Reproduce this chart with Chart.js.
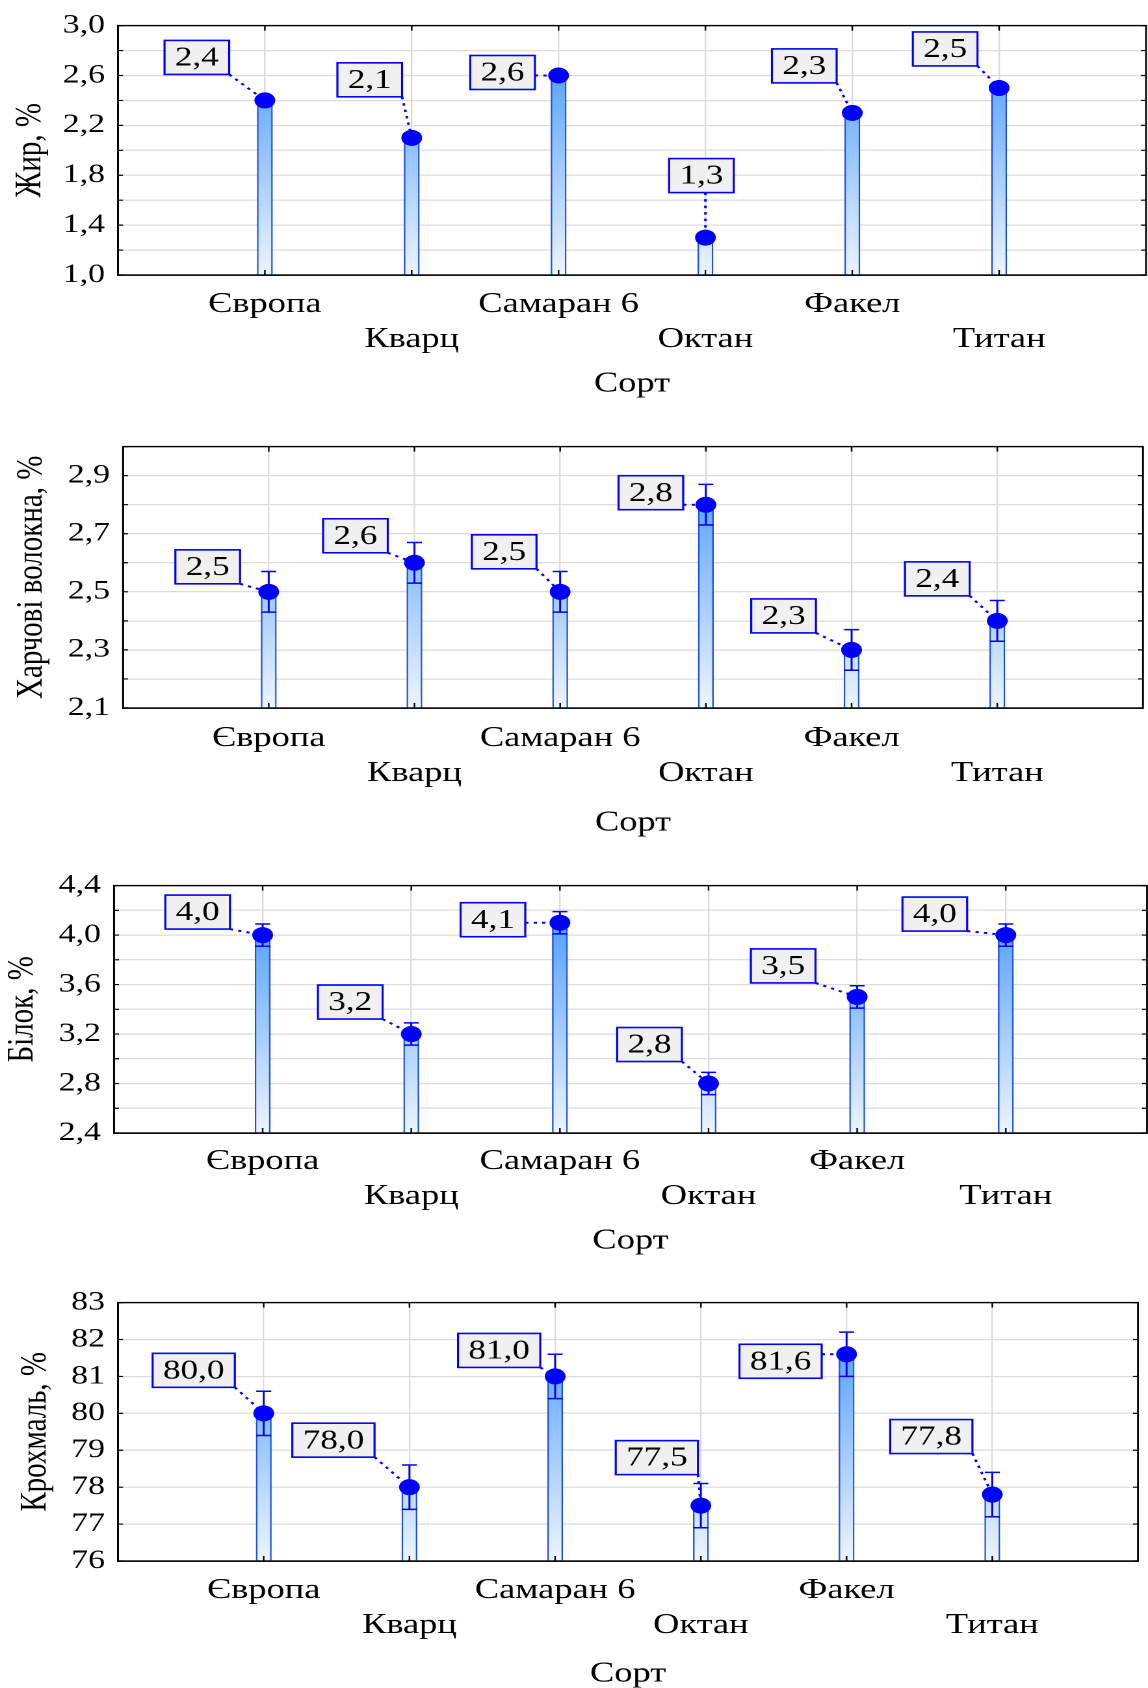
<!DOCTYPE html>
<html lang="uk">
<head>
<meta charset="utf-8">
<script src="https://cdn.jsdelivr.net/npm/chart.js@4.4.1/dist/chart.umd.min.js"></script>
<style>
	body { margin: 0; background: #fff; width: 1148px; height: 1688px; position: relative; overflow: hidden; }
	canvas { position: absolute; left: 0; }
</style>
</head>
<body>
<canvas id="chart-fat"></canvas>
<canvas id="chart-fiber"></canvas>
<canvas id="chart-protein"></canvas>
<canvas id="chart-starch"></canvas>
<script>
const sorts = ["Європа", "Кварц", "Самаран 6", "Октан", "Факел", "Титан"];

const fatValues = [2.4, 2.1, 2.6, 1.3, 2.3, 2.5];
const fiberValues = [2.5, 2.6, 2.5, 2.8, 2.3, 2.4];
const fiberErrors = [0.07, 0.07, 0.07, 0.07, 0.07, 0.07];
const proteinValues = [4.0, 3.2, 4.1, 2.8, 3.5, 4.0];
const proteinErrors = [0.09, 0.09, 0.09, 0.09, 0.09, 0.09];
const starchValues = [80.0, 78.0, 81.0, 77.5, 81.6, 77.8];
const starchErrors = [0.6, 0.6, 0.6, 0.6, 0.6, 0.6];

// y axis: [min, max, step, label every n-th tick, decimals]
const fatAxis = [1.0, 3.0, 0.2, 2, 1];
const fiberAxis = [2.1, 3.0, 0.1, 2, 1];
const proteinAxis = [2.4, 4.4, 0.2, 2, 1];
const starchAxis = [76, 83, 1, 1, 0];

// where the value boxes sit, px from their point
const fatShifts = [[-68, -43], [-42, -58], [-56, -3], [-4, -62], [-48, -47], [-54, -39]];
const fiberShifts = [[-61, -25], [-59, -27], [-56, -40], [-55, -12], [-68, -34], [-60, -42]];
const proteinShifts = [[-65, -23], [-61, -32], [-67, -3], [-59, -39], [-74, -31], [-71, -21]];
const starchShifts = [[-70, -43], [-76, -47], [-56, -26], [-44, -48], [-66, 7], [-61, -58]];

const INNER_W = 883;
const STRETCH = 1148 / INNER_W;   // the source figure is stretched sideways
const SERIF = '"Liberation Serif", "Times New Roman", serif';
const fmt = (v, d) => v.toFixed(d).replace(".", ",");

const panelFrame = {
	id: "panelFrame",
	afterDatasetsDraw(chart) {
		const {ctx, chartArea: a, scales} = chart;
		ctx.save();
		ctx.strokeStyle = "#000";
		ctx.lineWidth = 1.4;
		ctx.strokeRect(a.left, a.top, a.right - a.left, a.bottom - a.top);
		ctx.lineWidth = 1.2;
		ctx.beginPath();
		scales.y.ticks.forEach(t => {
			const y = scales.y.getPixelForValue(t.value);
			ctx.moveTo(a.left, y); ctx.lineTo(a.left + 5 / STRETCH, y);
			ctx.moveTo(a.right, y); ctx.lineTo(a.right - 5 / STRETCH, y);
		});
		scales.x.ticks.forEach(t => {
			const x = scales.x.getPixelForValue(t.value);
			ctx.moveTo(x, a.top); ctx.lineTo(x, a.top + 5);
			ctx.moveTo(x, a.bottom); ctx.lineTo(x, a.bottom - 5);
		});
		ctx.stroke();
		ctx.restore();
	}
};

const errorBars = {
	id: "errorBars",
	afterDatasetDraw(chart, args, opts) {
		if (args.meta.type !== "bar" || !opts.errors) return;
		const {ctx} = chart;
		const yScale = chart.scales.y;
		const half = 7.5 / STRETCH;
		ctx.save();
		ctx.strokeStyle = "#0000ff";
		ctx.lineWidth = 1.5;
		args.meta.data.forEach((bar, i) => {
			const top = yScale.getPixelForValue(opts.values[i] + opts.errors[i]);
			const bottom = yScale.getPixelForValue(opts.values[i] - opts.errors[i]);
			ctx.beginPath();
			ctx.moveTo(bar.x, top); ctx.lineTo(bar.x, bottom);
			ctx.moveTo(bar.x - half, top); ctx.lineTo(bar.x + half, top);
			ctx.moveTo(bar.x - half, bottom); ctx.lineTo(bar.x + half, bottom);
			ctx.stroke();
		});
		ctx.restore();
	}
};

const valueBoxes = {
	id: "valueBoxes",
	afterDatasetsDraw(chart, args, opts) {
		const {ctx} = chart;
		const meta = chart.getDatasetMeta(0);
		ctx.save();
		ctx.font = "27px " + SERIF;
		meta.data.forEach((pt, i) => {
			const text = fmt(opts.values[i], 1);
			const w = ctx.measureText(text).width + 16;
			const h = 34;
			const cx = pt.x + opts.shifts[i][0] / STRETCH;
			const cy = pt.y + opts.shifts[i][1];
			const x0 = cx - w / 2, y0 = cy - h / 2;
			const nx = Math.min(Math.max(pt.x, x0), x0 + w);
			const ny = Math.min(Math.max(pt.y, y0), y0 + h);

			ctx.strokeStyle = "#0000ff";
			ctx.setLineDash([2.5, 4]);
			ctx.lineWidth = 2;
			ctx.beginPath();
			ctx.moveTo(nx, ny);
			ctx.lineTo(pt.x, pt.y);
			ctx.stroke();
			ctx.setLineDash([]);

			ctx.fillStyle = "#f0f0f0";
			ctx.fillRect(x0, y0, w, h);
			ctx.lineWidth = 1.6;
			ctx.strokeRect(x0, y0, w, h);
			ctx.fillStyle = "#000";
			ctx.textAlign = "center";
			ctx.textBaseline = "middle";
			ctx.fillText(text, cx, cy + 1);
		});
		ctx.restore();
	}
};

function barFill(c) {
	const a = c.chart.chartArea;
	if (!a) return "#7db8ff";
	const g = c.chart.ctx.createLinearGradient(0, a.top, 0, a.bottom);
	g.addColorStop(0, "#3a92ff");
	g.addColorStop(1, "#eef5ff");
	return g;
}

function createPanel(id, p) {
	const canvas = document.getElementById(id);
	const plotH = p.bottom - p.top;
	const height = Math.round(22 + plotH + p.titleOffset + 16.8);
	const xHeight = height - 22 - plotH;
	canvas.width = INNER_W;
	canvas.height = height;
	canvas.style.width = "1148px";
	canvas.style.height = height + "px";
	canvas.style.top = (p.top - 22) + "px";

	const [yMin, yMax, yStep, every, dec] = p.axis;
	const points = sorts.map((s, i) => ({x: i + 1, y: p.values[i]}));

	new Chart(canvas, {
		type: "bar",
		data: {
			datasets: [
				{
					type: "line",
					data: points,
					showLine: false,
					pointRadius: 8,
					pointHoverRadius: 8,
					pointBackgroundColor: "#0000ff",
					pointBorderWidth: 0
				},
				{
					type: "bar",
					data: points,
					base: yMin,
					barThickness: 15 / STRETCH,
					backgroundColor: barFill,
					borderColor: "#1d4fe8",
					borderWidth: 1.2,
					borderSkipped: "start"
				}
			]
		},
		options: {
			responsive: false,
			animation: false,
			devicePixelRatio: 2,
			layout: { autoPadding: false, padding: { top: 22, left: 0, right: (1148 - p.right) / STRETCH, bottom: 0 } },
			plugins: {
				legend: { display: false },
				tooltip: { enabled: false },
				errorBars: { values: p.values, errors: p.errors },
				valueBoxes: { values: p.values, shifts: p.shifts }
			},
			scales: {
				x: {
					type: "linear",
					min: 0,
					max: p.xMax,
					offset: false,
					afterBuildTicks: scale => { scale.ticks = sorts.map((s, i) => ({value: i + 1})); },
					afterFit: scale => { scale.height = xHeight; },
					grid: { color: "#dcdcdc", lineWidth: 1.2, drawTicks: false, offset: false },
					border: { color: "#000", width: 1.4 },
					ticks: {
						autoSkip: false,
						maxRotation: 0,
						minRotation: 0,
						padding: p.tickPad,
						color: "#000",
						font: { family: SERIF, size: 28, lineHeight: 1.25 },
						callback: v => {
							const i = Math.round(v) - 1;
							return i % 2 === 0 ? [sorts[i], ""] : ["", sorts[i]];
						}
					},
					title: { display: true, text: "Сорт", color: "#000", padding: 0, font: { family: SERIF, size: 28 } }
				},
				y: {
					min: yMin,
					max: yMax,
					beginAtZero: false,
					afterFit: scale => { scale.width = p.left / STRETCH; },
					grid: { color: "#dcdcdc", lineWidth: 1.2, drawTicks: false },
					border: { color: "#000", width: 1.4 },
					ticks: {
						stepSize: yStep,
						autoSkip: false,
						padding: 10,
						color: "#000",
						font: { family: SERIF, size: 26 },
						callback: (v, i) => i % every === 0 ? fmt(v, dec) : ""
					},
					title: {
						display: true,
						text: p.yTitle,
						color: "#000",
						padding: { top: p.yTitlePad, bottom: 0 },
						font: { family: SERIF, size: 29 }
					}
				}
			}
		},
		plugins: [panelFrame, errorBars, valueBoxes]
	});
}

createPanel("chart-fat", {
	top: 22, bottom: 275, left: 118, right: 1146, xMax: 7,
	tickPad: 12, titleOffset: 109, yTitlePad: 6,
	yTitle: "Жир, %", values: fatValues, errors: null, axis: fatAxis, shifts: fatShifts
});
createPanel("chart-fiber", {
	top: 443, bottom: 708, left: 123, right: 1143, xMax: 7,
	tickPad: 13, titleOffset: 115, yTitlePad: 7,
	yTitle: "Харчові волокна, %", values: fiberValues, errors: fiberErrors, axis: fiberAxis, shifts: fiberShifts
});
createPanel("chart-protein", {
	top: 882, bottom: 1133, left: 114, right: 1147, xMax: 6.95,
	tickPad: 11, titleOffset: 108, yTitlePad: 0,
	yTitle: "Білок, %", values: proteinValues, errors: proteinErrors, axis: proteinAxis, shifts: proteinShifts
});
createPanel("chart-starch", {
	top: 1299, bottom: 1561, left: 118, right: 1138, xMax: 7,
	tickPad: 12, titleOffset: 113, yTitlePad: 10,
	yTitle: "Крохмаль, %", values: starchValues, errors: starchErrors, axis: starchAxis, shifts: starchShifts
});
</script>
</body>
</html>
